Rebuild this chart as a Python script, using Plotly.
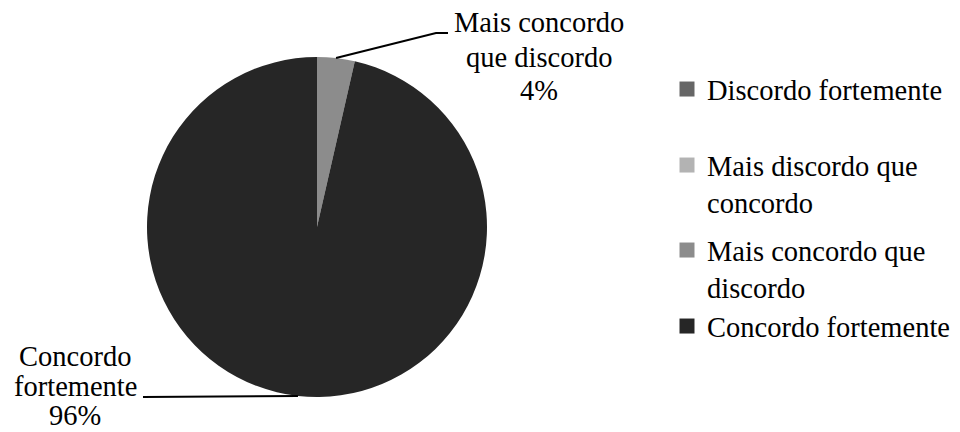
import math
import plotly.graph_objects as go

labels = [
    "Discordo fortemente",
    "Mais discordo que concordo",
    "Mais concordo que discordo",
    "Concordo fortemente",
]
legend_labels = [
    "Discordo fortemente",
    "Mais discordo que<br>concordo",
    "Mais concordo que<br>discordo",
    "Concordo fortemente",
]
values = [0, 0, 1, 27]
colors = ["#666666", "#b3b3b3", "#8c8c8c", "#262626"]

W, H = 960, 432
OFF = 8  # the page body adds an 8px margin around the figure
FONT = "Liberation Serif"
FS = 28.5

# pie placement in screen pixels
cx, cy, r = 317, 227, 170


def px(x):
    return (x - OFF) / W


def py(y):
    return 1 - (y - OFF) / H


fig = go.Figure()
fig.add_trace(go.Pie(
    labels=labels,
    values=values,
    marker=dict(colors=colors, line=dict(width=0)),
    sort=False,
    direction="clockwise",
    rotation=0,
    textinfo="none",
    hoverinfo="label+percent",
    showlegend=False,
    domain=dict(x=[px(cx - r), px(cx + r)], y=[py(cy + r), py(cy - r)]),
))

# legend entries, one legend box each so the spacing follows the original
legend_names = ["legend", "legend2", "legend3", "legend4"]
legend_tops = [64, 140, 225, 301]
legends = {}
for name, lab, col, top in zip(legend_names, legend_labels, colors, legend_tops):
    fig.add_trace(go.Scatter(
        x=[None], y=[None], mode="markers", name=lab,
        marker=dict(symbol="square", size=15, color=col),
        legend=name, showlegend=True, hoverinfo="skip",
    ))
    legends[name] = dict(
        x=px(667), y=py(top), xanchor="left", yanchor="top",
        font=dict(family=FONT, size=FS, color="#000000"),
        itemwidth=30, valign="top", bgcolor="rgba(0,0,0,0)",
    )

# data labels with leader lines to the middle of each non-zero slice
total = sum(values)
label_lines = {
    2: ["Mais concordo", "que discordo", "%d%%"],
    3: ["Concordo", "fortemente", "%d%%"],
}
label_pos = {
    2: dict(x=539, baselines=[32, 66, 99], pts=[(448, 33), (436, 33)]),
    3: dict(x=75, baselines=[365, 395, 424], pts=[(143, 397)]),
}
shapes = []
annotations = []
cum = 0
for i, v in enumerate(values):
    start = cum
    cum += v
    if i not in label_pos:
        continue
    mid = (start + v / 2) / total * 2 * math.pi
    ex = cx + r * math.sin(mid)
    ey = cy - r * math.cos(mid)
    pos = label_pos[i]
    pct = round(v / total * 100)
    for line, base in zip(label_lines[i], pos["baselines"]):
        txt = line % pct if "%d" in line else line
        annotations.append(dict(
            x=px(pos["x"]), y=py(base - 9),
            xref="paper", yref="paper", text=txt, showarrow=False,
            xanchor="center", yanchor="middle",
            font=dict(family=FONT, size=FS, color="#000000"),
        ))
    pts = pos["pts"] + [(ex, ey)]
    path = "M " + " L ".join("%f,%f" % (px(a), py(b)) for a, b in pts)
    shapes.append(dict(
        type="path", xref="paper", yref="paper", path=path,
        line=dict(color="#000000", width=2),
    ))

fig.update_layout(
    width=W,
    height=H,
    margin=dict(l=0, r=0, t=0, b=0, autoexpand=False),
    paper_bgcolor="white",
    plot_bgcolor="white",
    font=dict(family=FONT, size=FS, color="#000000"),
    xaxis=dict(visible=False),
    yaxis=dict(visible=False),
    annotations=annotations,
    shapes=shapes,
    **legends,
)

fig.write_html("out.html")
